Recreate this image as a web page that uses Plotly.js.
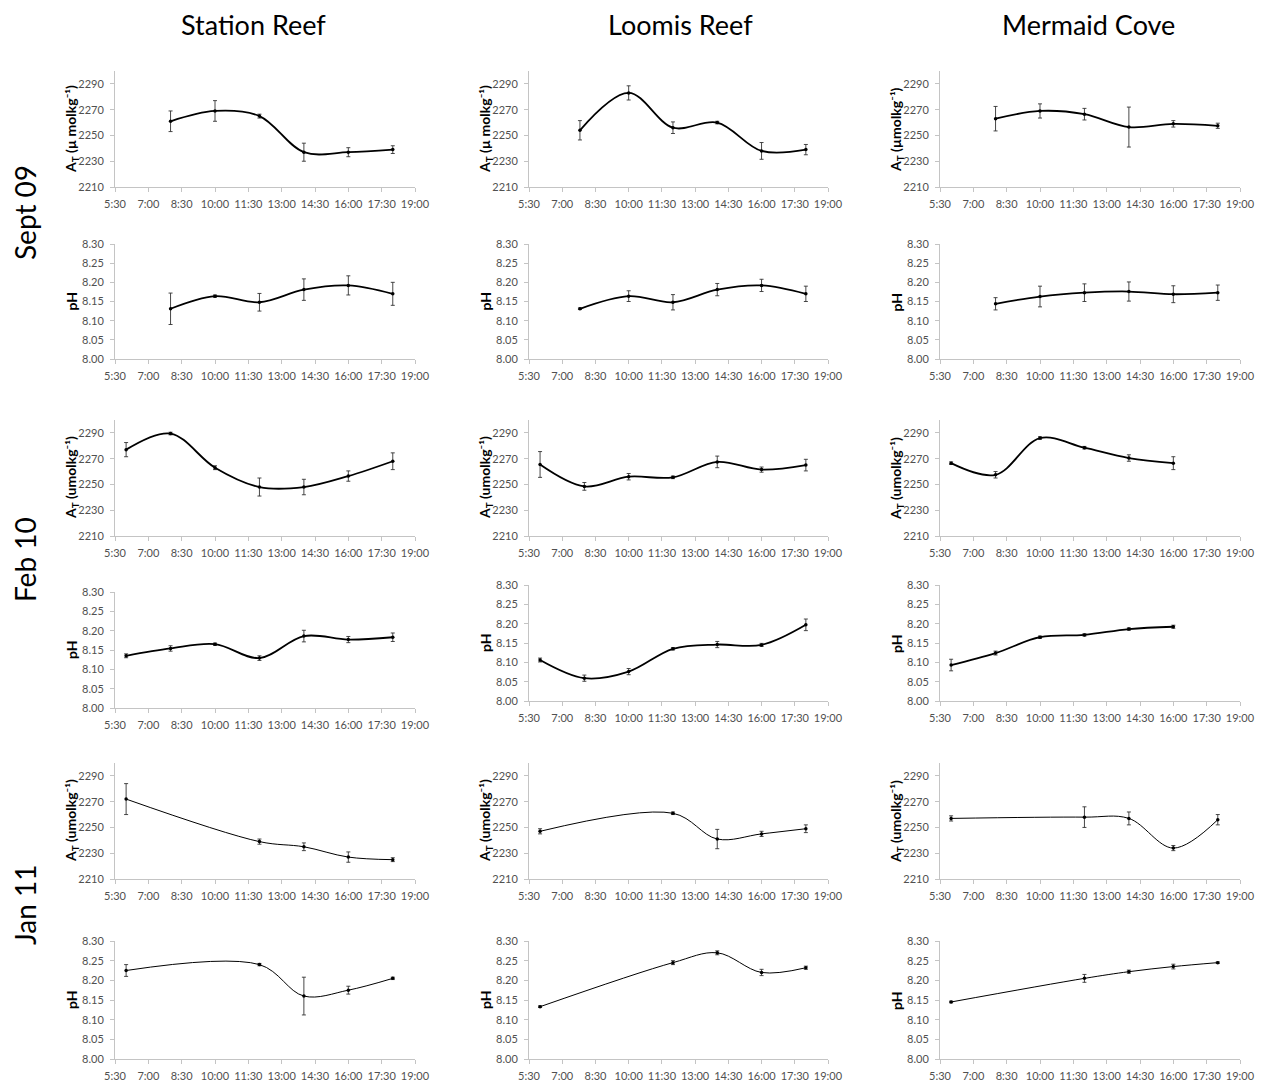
<!DOCTYPE html>
<html>
<head>
<meta charset="utf-8">
<script src="https://cdn.plot.ly/plotly-3.0.1.min.js"></script>
<style>
  html, body { margin: 0; padding: 0; background: #ffffff; }
  #chart { width: 1272px; height: 1084px; }
</style>
</head>
<body>
<div id="chart"></div>
<script>
// Sampling sites (columns) and campaigns (rows)
const sites = ['Station Reef', 'Loomis Reef', 'Mermaid Cove'];
const campaigns = ['Sept 09', 'Feb 10', 'Jan 11'];

// Time axis (hours of the day) and its labels
const timeTickVals = [5.5, 7, 8.5, 10, 11.5, 13, 14.5, 16, 17.5, 19];
const timeTickText = ['5:30', '7:00', '8:30', '10:00', '11:30', '13:00', '14:30', '16:00', '17:30', '19:00'];

// ---- Sept 09 ----
const stationSepTime  = [8, 10, 12, 14, 16, 18];
const stationSepAT    = [2261, 2269, 2265, 2237, 2237, 2239];
const stationSepATErr = [8, 8, 1.5, 7, 3.5, 3];
const stationSepPH    = [8.131, 8.164, 8.148, 8.181, 8.192, 8.170];
const stationSepPHErr = [0.041, 0.003, 0.023, 0.028, 0.025, 0.030];

const loomisSepTime  = [7.8, 10, 12, 14, 16, 18];
const loomisSepAT    = [2254, 2283, 2256, 2260, 2238, 2239];
const loomisSepATErr = [7.5, 5.5, 4.5, 1, 6.5, 4];
const loomisSepPH    = [8.131, 8.164, 8.148, 8.181, 8.192, 8.170];
const loomisSepPHErr = [0.002, 0.014, 0.020, 0.016, 0.016, 0.020];

const mermaidSepTime  = [8, 10, 12, 14, 16, 18];
const mermaidSepAT    = [2263, 2269, 2266.5, 2256.5, 2259, 2257.5];
const mermaidSepATErr = [9.5, 5.5, 4.5, 15.5, 2.5, 2];
const mermaidSepPH    = [8.144, 8.163, 8.173, 8.176, 8.169, 8.173];
const mermaidSepPHErr = [0.016, 0.027, 0.023, 0.025, 0.022, 0.020];

// ---- Feb 10 ----
const stationFebTime  = [6, 8, 10, 12, 14, 16, 18];
const stationFebAT    = [2277, 2289.5, 2263, 2248, 2248, 2256.5, 2268];
const stationFebATErr = [5.5, 1, 1.5, 7, 6, 4, 6.5];
const stationFebPH    = [8.135, 8.154, 8.165, 8.129, 8.186, 8.177, 8.183];
const stationFebPHErr = [0.005, 0.007, 0.003, 0.006, 0.015, 0.008, 0.011];

const loomisFebTime  = [6, 8, 10, 12, 14, 16, 18];
const loomisFebAT    = [2265.5, 2248.5, 2256, 2255.5, 2267.5, 2261.5, 2265];
const loomisFebATErr = [10, 3, 2.5, 1, 4.5, 2, 4.5];
const loomisFebPH    = [8.106, 8.059, 8.076, 8.135, 8.146, 8.145, 8.197];
const loomisFebPHErr = [0.005, 0.008, 0.008, 0.003, 0.008, 0.004, 0.015];

const mermaidFebTime  = [6, 8, 10, 12, 14, 16];
const mermaidFebAT    = [2266.5, 2257.5, 2286, 2278.5, 2270.5, 2266.5];
const mermaidFebATErr = [1, 2.5, 1, 1, 2.5, 5];
const mermaidFebPH    = [8.093, 8.124, 8.165, 8.171, 8.186, 8.192];
const mermaidFebPHErr = [0.015, 0.005, 0.003, 0.003, 0.003, 0.004];

// ---- Jan 11 ----
const stationJanTime  = [6, 12, 14, 16, 18];
const stationJanAT    = [2272, 2239, 2235, 2227, 2225];
const stationJanATErr = [12, 2, 3, 4, 1.5];
const stationJanPH    = [8.225, 8.240, 8.160, 8.175, 8.205];
const stationJanPHErr = [0.015, 0.003, 0.048, 0.010, 0.003];

const loomisJanTime  = [6, 12, 14, 16, 18];
const loomisJanAT    = [2247, 2261, 2241, 2245, 2249];
const loomisJanATErr = [2, 1, 7.5, 2, 3];
const loomisJanPH    = [8.133, 8.245, 8.270, 8.220, 8.232];
const loomisJanPHErr = [0.002, 0.005, 0.005, 0.008, 0.004];

const mermaidJanTime  = [6, 12, 14, 16, 18];
const mermaidJanAT    = [2257, 2258, 2257, 2234, 2256];
const mermaidJanATErr = [2, 8, 5, 2, 4];
const mermaidJanPH    = [8.145, 8.205, 8.222, 8.235, 8.245];
const mermaidJanPHErr = [0.002, 0.010, 0.004, 0.006, 0.002];

// Y-axis titles as printed on each panel
const atTitleSpaced = 'A<sub>T</sub> (µ molkg⁻¹)';
const atTitleMicro  = 'A<sub>T</sub> (µmolkg⁻¹)';
const atTitleU      = 'A<sub>T</sub> (umolkg⁻¹)';
const phTitle       = 'pH';

// Panel grid: rows of [time, values, errors, kind, title] per site
const panels = [
  // row 0: Sept 09 alkalinity
  [[stationSepTime, stationSepAT, stationSepATErr, 'AT', atTitleSpaced],
   [loomisSepTime, loomisSepAT, loomisSepATErr, 'AT', atTitleSpaced],
   [mermaidSepTime, mermaidSepAT, mermaidSepATErr, 'AT', atTitleMicro]],
  // row 1: Sept 09 pH
  [[stationSepTime, stationSepPH, stationSepPHErr, 'PH', phTitle],
   [loomisSepTime, loomisSepPH, loomisSepPHErr, 'PH', phTitle],
   [mermaidSepTime, mermaidSepPH, mermaidSepPHErr, 'PH', phTitle]],
  // row 2: Feb 10 alkalinity
  [[stationFebTime, stationFebAT, stationFebATErr, 'AT', atTitleU],
   [loomisFebTime, loomisFebAT, loomisFebATErr, 'AT', atTitleU],
   [mermaidFebTime, mermaidFebAT, mermaidFebATErr, 'AT', atTitleU]],
  // row 3: Feb 10 pH
  [[stationFebTime, stationFebPH, stationFebPHErr, 'PH', phTitle],
   [loomisFebTime, loomisFebPH, loomisFebPHErr, 'PH', phTitle],
   [mermaidFebTime, mermaidFebPH, mermaidFebPHErr, 'PH', phTitle]],
  // row 4: Jan 11 alkalinity
  [[stationJanTime, stationJanAT, stationJanATErr, 'AT', atTitleU],
   [loomisJanTime, loomisJanAT, loomisJanATErr, 'AT', atTitleU],
   [mermaidJanTime, mermaidJanAT, mermaidJanATErr, 'AT', atTitleU]],
  // row 5: Jan 11 pH
  [[stationJanTime, stationJanPH, stationJanPHErr, 'PH', phTitle],
   [loomisJanTime, loomisJanPH, loomisJanPHErr, 'PH', phTitle],
   [mermaidJanTime, mermaidJanPH, mermaidJanPHErr, 'PH', phTitle]]
];

// Layout geometry in pixels
const W = 1272, H = 1084;
const colPx = [[115, 415], [529, 828], [940, 1240]];
const rowPx = [[71, 187], [244, 359], [420, 536], [585, 701], [763, 879], [941, 1059]];
const rowPxOverride = { '3,0': [592, 708] };
const rowLabelY = [213, 560, 905];
const yTitleGap = 44;

const FONT = 'Lato, "Open Sans", sans-serif';
const axisGray = '#c4c4c4';
const tickGray = '#505050';

const traces = [];
const layout = {
  width: W, height: H,
  margin: { l: 0, r: 0, t: 0, b: 0 },
  paper_bgcolor: '#ffffff',
  plot_bgcolor: '#ffffff',
  showlegend: false,
  hovermode: false,
  font: { family: FONT, color: '#000000' },
  annotations: []
};

let n = 0;
panels.forEach((row, r) => {
  row.forEach((cell, c) => {
    n += 1;
    const [t, v, e, kind, ytitle] = cell;
    const xName = n === 1 ? 'xaxis' : 'xaxis' + n;
    const yName = n === 1 ? 'yaxis' : 'yaxis' + n;
    const xRef = n === 1 ? 'x' : 'x' + n;
    const yRef = n === 1 ? 'y' : 'y' + n;
    const rp = rowPxOverride[r + ',' + c] || rowPx[r];
    const cp = colPx[c];
    const thin = r >= 4;

    traces.push({
      type: 'scatter', mode: 'lines+markers',
      x: t, y: v, xaxis: xRef, yaxis: yRef,
      line: { color: '#000000', width: thin ? 1 : 1.8, shape: 'spline', smoothing: 1 },
      marker: { color: '#000000', size: 3.5 },
      error_y: { type: 'data', array: e, visible: true, color: '#333333', thickness: 0.9, width: 2 },
      cliponaxis: false
    });

    layout[xName] = {
      domain: [cp[0] / W, cp[1] / W],
      anchor: yRef,
      range: [5.5, 19],
      tickmode: 'array', tickvals: timeTickVals, ticktext: timeTickText,
      showline: true, linecolor: axisGray, linewidth: 1,
      ticks: 'outside', ticklen: 4, tickcolor: axisGray,
      showgrid: false, zeroline: false,
      tickfont: { family: FONT, size: 11, color: tickGray },
      ticklabelstandoff: 3
    };

    const yAx = {
      domain: [1 - rp[1] / H, 1 - rp[0] / H],
      anchor: xRef,
      showline: true, linecolor: axisGray, linewidth: 1,
      ticks: 'outside', ticklen: 4, tickcolor: axisGray,
      showgrid: false, zeroline: false,
      tickfont: { family: FONT, size: 11, color: tickGray },
      ticklabelstandoff: 4
    };
    if (kind === 'AT') {
      Object.assign(yAx, { range: [2210, 2300], tick0: 2210, dtick: 20, tickmode: 'linear' });
    } else {
      Object.assign(yAx, { range: [8.0, 8.3], tick0: 8.0, dtick: 0.05, tickmode: 'linear', tickformat: '.2f' });
    }
    layout[yName] = yAx;

    // y-axis title, drawn beside the tick labels
    layout.annotations.push({
      text: ytitle,
      xref: 'paper', yref: 'paper',
      x: (cp[0] - yTitleGap) / W, xanchor: 'center',
      y: 1 - (rp[0] + rp[1]) / 2 / H, yanchor: 'middle',
      textangle: -90, showarrow: false,
      font: { family: FONT, size: 14, weight: 700, color: '#000000' }
    });
  });
});

// Column headings
sites.forEach((s, c) => {
  layout.annotations.push({
    text: s, xref: 'paper', yref: 'paper',
    x: [253, 680, 1088][c] / W, y: 1 - 25 / H,
    xanchor: 'center', yanchor: 'middle', showarrow: false,
    font: { family: FONT, size: 27, color: '#000000' }
  });
});

// Row headings
campaigns.forEach((s, i) => {
  layout.annotations.push({
    text: s, xref: 'paper', yref: 'paper',
    x: 25 / W, y: 1 - rowLabelY[i] / H,
    xanchor: 'center', yanchor: 'middle', textangle: -90, showarrow: false,
    font: { family: FONT, size: 28, color: '#000000' }
  });
});

Plotly.newPlot('chart', traces, layout, { staticPlot: true, displayModeBar: false });
</script>
</body>
</html>
